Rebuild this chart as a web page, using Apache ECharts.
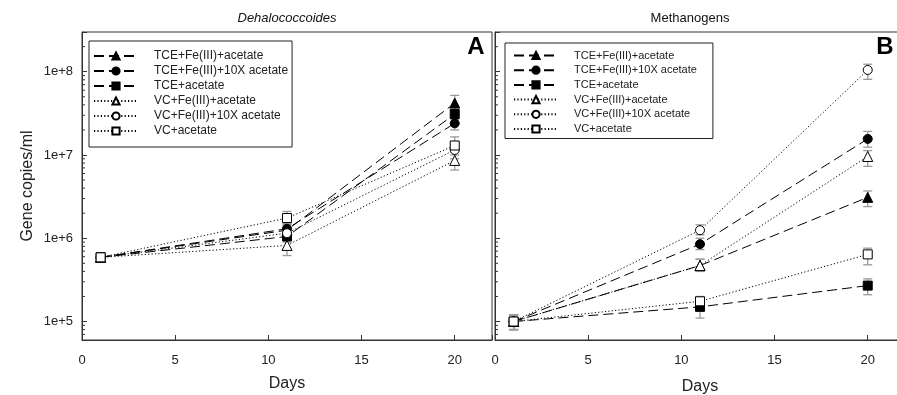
<!DOCTYPE html>
<html><head><meta charset="utf-8">
<script src="https://cdn.jsdelivr.net/npm/echarts@6/dist/echarts.min.js"></script>
<style>html,body{margin:0;padding:0;background:#fff}#c{width:897px;height:395px}</style>
</head><body><div id="c"></div>
<script>
// ---- data ----
const days = [1, 11, 20];
const seriesNames = ['TCE+Fe(III)+acetate', 'TCE+Fe(III)+10X acetate', 'TCE+acetate',
                     'VC+Fe(III)+acetate', 'VC+Fe(III)+10X acetate', 'VC+acetate'];
const xTicks = [0, 5, 10, 15, 20];
const yTickExponents = [5, 6, 7, 8];

// Panel A: Dehalococcoides
const dhcTceFe      = [5.9e5, 1.25e6, 4.2e7];
const dhcTceFe10    = [5.9e5, 1.30e6, 2.4e7];
const dhcTce        = [5.9e5, 1.05e6, 3.1e7];
const dhcVcFe       = [5.9e5, 8.2e5, 8.6e6];
const dhcVcFe10     = [5.9e5, 1.15e6, 1.15e7];
const dhcVc         = [5.9e5, 1.75e6, 1.3e7];
const dhcLow  = [[5.3e5, 1.05e6, 3.4e7], [5.3e5, 1.1e6, 2.0e7], [5.3e5, 9.0e5, 2.7e7],
                 [5.3e5, 6.2e5, 6.6e6], [5.3e5, 9.5e5, 9.0e6], [5.3e5, 1.45e6, 1.0e7]];
const dhcHigh = [[6.6e5, 1.5e6, 5.2e7], [6.6e5, 1.5e6, 2.8e7], [6.6e5, 1.2e6, 3.5e7],
                 [6.6e5, 1.05e6, 1.1e7], [6.6e5, 1.4e6, 1.45e7], [6.6e5, 2.1e6, 1.65e7]];

// Panel B: Methanogens
const metTceFe      = [1.0e5, 4.7e5, 3.1e6];
const metTceFe10    = [1.0e5, 8.5e5, 1.56e7];
const metTce        = [1.0e5, 1.5e5, 2.7e5];
const metVcFe       = [1.0e5, 4.7e5, 9.6e6];
const metVcFe10     = [1.0e5, 1.25e6, 1.05e8];
const metVc         = [1.0e5, 1.75e5, 6.4e5];
const metLow  = [[8.0e4, 4.0e5, 2.4e6], [8.0e4, 7.3e5, 1.24e7], [8.0e4, 1.1e5, 2.1e5],
                 [8.0e4, 4.0e5, 7.3e6], [8.0e4, 1.1e6, 8.1e7], [8.0e4, 1.5e5, 4.8e5]];
const metHigh = [[1.2e5, 5.6e5, 3.7e6], [1.2e5, 1.0e6, 1.92e7], [1.2e5, 1.95e5, 3.25e5],
                 [1.2e5, 5.6e5, 1.13e7], [1.2e5, 1.45e6, 1.23e8], [1.2e5, 2.0e5, 7.6e5]];

// ---- styling ----
const yMin = 6e4, yMax = 3e8;
const FONT = 'Liberation Sans, Arial, sans-serif';
const styles = [
  {symbol: 'triangle', size: 10, fill: '#000', dash: [10, 5]},
  {symbol: 'circle',   size: 9,  fill: '#000', dash: [10, 5]},
  {symbol: 'rect',     size: 9,  fill: '#000', dash: [10, 5]},
  {symbol: 'triangle', size: 10, fill: '#fff', dash: [1.2, 2.2]},
  {symbol: 'circle',   size: 9,  fill: '#fff', dash: [1.2, 2.2]},
  {symbol: 'rect',     size: 9,  fill: '#fff', dash: [1.2, 2.2]}
];

const minorTicks = [];
for (let e = 4; e <= 8; e++) for (let k = 2; k <= 9; k++) {
  const v = k * Math.pow(10, e);
  if (v > yMin && v < yMax) minorTicks.push(v);
}

function errRender(params, api) {
  const x = api.value(0);
  const p1 = api.coord([x, api.value(1)]);
  const p2 = api.coord([x, api.value(2)]);
  const w = 4.5, st = {stroke: '#9a9a9a', lineWidth: 1.3};
  return {type: 'group', children: [
    {type: 'line', shape: {x1: p1[0], y1: p1[1], x2: p2[0], y2: p2[1]}, style: st},
    {type: 'line', shape: {x1: p1[0] - w, y1: p1[1], x2: p1[0] + w, y2: p1[1]}, style: st},
    {type: 'line', shape: {x1: p2[0] - w, y1: p2[1], x2: p2[0] + w, y2: p2[1]}, style: st}
  ]};
}
function minorRender(params, api) {
  const p = api.coord([api.value(0), api.value(1)]);
  return {type: 'line', shape: {x1: p[0], y1: p[1], x2: p[0] + 3, y2: p[1]},
          style: {stroke: '#333', lineWidth: 1}};
}

function panelSeries(idx, vals, lows, highs) {
  const out = [];
  const errData = [];
  vals.forEach((v, si) => days.forEach((d, di) => errData.push([d, lows[si][di], highs[si][di]])));
  out.push({type: 'custom', xAxisIndex: idx, yAxisIndex: idx, renderItem: errRender,
            data: errData, z: 1, silent: true, clip: true});
  out.push({type: 'custom', xAxisIndex: idx, yAxisIndex: idx, renderItem: minorRender,
            data: minorTicks.map(v => [0, v]), z: 3, silent: true, clip: false});
  vals.forEach((arr, si) => {
    const s = styles[si];
    out.push({
      type: 'line', name: seriesNames[si], xAxisIndex: idx, yAxisIndex: idx,
      data: days.map((d, i) => [d, arr[i]]),
      symbol: s.symbol, symbolSize: s.size, showAllSymbol: true,
      lineStyle: {color: '#000', width: 1, type: s.dash},
      itemStyle: {color: s.fill, borderColor: '#000', borderWidth: 1},
      z: 5, animation: false
    });
  });
  return out;
}

function xAxis(idx, gap) {
  return {gridIndex: idx, type: 'value', min: 0, max: 22, interval: 5,
    axisLine: {lineStyle: {color: '#333', width: 1}},
    axisTick: {inside: true, length: 5, lineStyle: {color: '#333'}},
    axisLabel: {fontSize: 13, color: '#222', fontFamily: FONT, margin: 14,
                formatter: v => (xTicks.indexOf(v) >= 0 ? String(v) : '')},
    splitLine: {show: false},
    name: 'Days', nameLocation: 'middle', nameGap: gap,
    nameTextStyle: {fontSize: 16, color: '#222', fontFamily: FONT}};
}
function yAxis(idx, showLabels) {
  const ax = {gridIndex: idx, type: 'log', logBase: 10, min: yMin, max: yMax,
    axisLine: {lineStyle: {color: '#333', width: 1}},
    axisTick: {inside: true, length: 5, lineStyle: {color: '#333'}},
    axisLabel: {show: showLabels, fontSize: 13, color: '#222', fontFamily: FONT, margin: 9,
      formatter: v => {
        const e = Math.log10(v);
        const r = Math.round(e);
        return (Math.abs(e - r) < 1e-6 && yTickExponents.indexOf(r) >= 0) ? '1e+' + r : '';
      }},
    splitLine: {show: false}};
  if (showLabels) {
    ax.name = 'Gene copies/ml'; ax.nameLocation = 'middle'; ax.nameGap = 46;
    ax.nameTextStyle = {fontSize: 16, color: '#222', fontFamily: FONT};
  }
  return ax;
}

function legend(left, top, fontSize, gap, padding) {
  return {left: left, top: top, orient: 'vertical', data: seriesNames,
    itemWidth: 44, itemHeight: 9, itemGap: gap, selectedMode: false,
    borderColor: '#222', borderWidth: 1, borderRadius: 0, padding: padding,
    textStyle: {fontSize: fontSize, color: '#222', fontFamily: FONT, padding: [0, 0, 0, 11]}};
}

const chart = echarts.init(document.getElementById('c'), null, {renderer: 'canvas'});
chart.setOption({
  animation: false,
  backgroundColor: '#fff',
  textStyle: {fontFamily: FONT},
  grid: [
    {left: 82, top: 32, width: 410, height: 308, show: true, borderColor: '#333', borderWidth: 1,
     containLabel: false, outerBoundsMode: 'none'},
    {left: 495, top: 32, width: 410, height: 308, show: true, borderColor: '#333', borderWidth: 1,
     containLabel: false, outerBoundsMode: 'none'}
  ],
  xAxis: [xAxis(0, 36), xAxis(1, 39)],
  yAxis: [yAxis(0, true), yAxis(1, false)],
  legend: [legend(89, 41, 12, 3, [9, 4, 10, 4]), legend(505, 43, 11, 3.7, [7, 16, 4, 8])],
  graphic: [
    {type: 'text', x: 287, y: 18, style: {text: 'Dehalococcoides', align: 'center', verticalAlign: 'middle',
      font: 'italic 13px ' + FONT, fill: '#111'}},
    {type: 'text', x: 690, y: 18, style: {text: 'Methanogens', align: 'center', verticalAlign: 'middle',
      font: '13px ' + FONT, fill: '#111'}},
    {type: 'text', x: 476, y: 47, style: {text: 'A', align: 'center', verticalAlign: 'middle',
      font: 'bold 24px ' + FONT, fill: '#000'}},
    {type: 'text', x: 885, y: 47, style: {text: 'B', align: 'center', verticalAlign: 'middle',
      font: 'bold 24px ' + FONT, fill: '#000'}}
  ],
  series: [].concat(
    panelSeries(0, [dhcTceFe, dhcTceFe10, dhcTce, dhcVcFe, dhcVcFe10, dhcVc], dhcLow, dhcHigh),
    panelSeries(1, [metTceFe, metTceFe10, metTce, metVcFe, metVcFe10, metVc], metLow, metHigh)
  )
});
</script></body></html>
